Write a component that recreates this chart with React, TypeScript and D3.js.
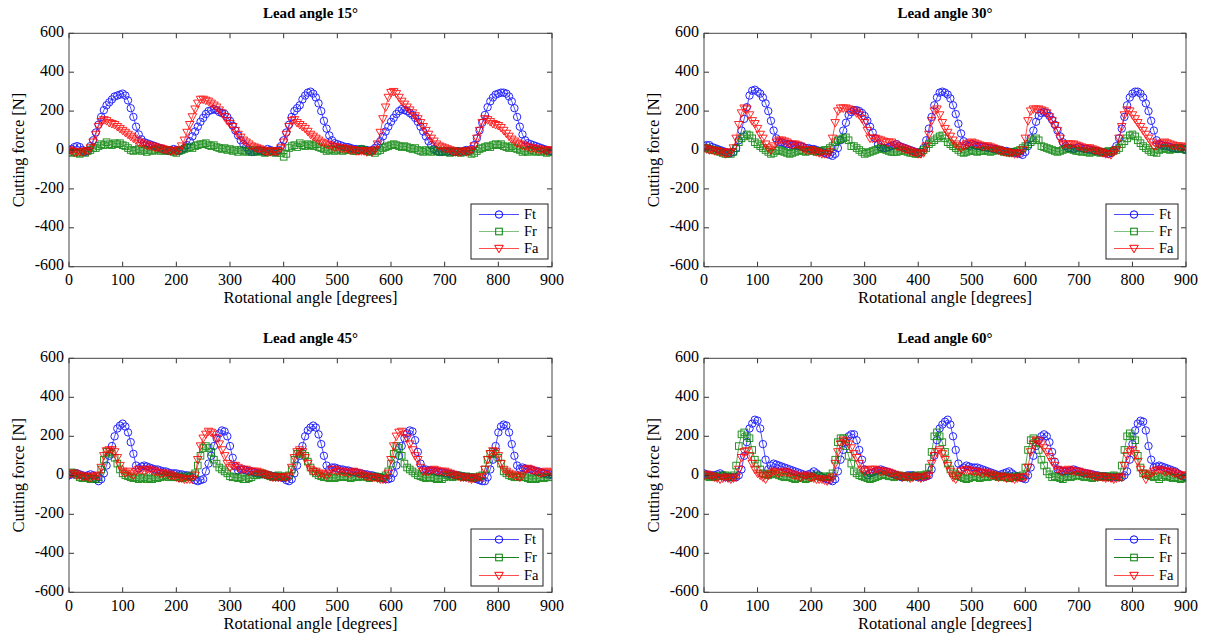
import React from "react";
import * as d3 from "d3";

const angles = d3.range(0, 905, 5);
const xTicks = [0, 100, 200, 300, 400, 500, 600, 700, 800, 900];
const yTicks = [-600, -400, -200, 0, 200, 400, 600];
const titles = ["Lead angle 15°", "Lead angle 30°", "Lead angle 45°", "Lead angle 60°"];
const seriesNames = ["Ft", "Fr", "Fa"];

const ft15 = [
  0, 5, 15, 20, 15, 0, -10, -5, 20, 50,
  90, 130, 170, 205, 230, 245, 260, 275, 280, 285,
  290, 280, 255, 215, 170, 120, 80, 55, 40, 35,
  30, 25, 20, 15, 10, 5, 0, -5, 0, 5,
  0, -5, 0, 10, 25, 45, 70, 95, 120, 145,
  165, 185, 200, 205, 210, 205, 195, 190, 185, 170,
  150, 125, 100, 75, 50, 30, 15, 0, -10, -10,
  -5, 0, -5, -10, 5, 0, -5, -10, 0, 20,
  50, 90, 130, 170, 200, 215, 230, 260, 280, 295,
  300, 290, 270, 240, 200, 150, 110, 75, 50, 35,
  30, 25, 20, 15, 15, 10, 5, 5, 0, 5,
  0, 0, -5, 0, 10, 25, 45, 70, 95, 120,
  145, 165, 185, 200, 210, 205, 200, 190, 180, 165,
  145, 120, 95, 70, 45, 25, 5, -5, -10, -10,
  -5, -10, -5, -10, -10, -5, -10, -5, 0, -5,
  5, 25, 60, 100, 140, 180, 220, 250, 270, 285,
  290, 295, 295, 290, 275, 250, 215, 170, 120, 80,
  50, 35, 30, 25, 20, 15, 10, 5, 0, -5,
  -5,
];
const fr15 = [
  -10, -15, -10, -15, -20, -10, -15, -5, 0, 10,
  10, 20, 30, 25, 40, 30, 25, 35, 30, 35,
  25, 20, 10, 0, -5, 0, 5, -5, 0, -10,
  0, -5, 0, 5, -5, 0, -5, 0, -5, -10,
  -15, -5, 0, 5, 10, 15, 10, 20, 25, 30,
  30, 35, 25, 20, 25, 15, 10, 5, 10, 0,
  5, -5, 0, -10, 0, -5, -10, -5, -10, 0,
  -5, -10, -5, -15, -10, -5, -10, -15, -5, -15,
  -35, -20, 10, 20, 25, 15, 35, 25, 20, 30,
  25, 20, 30, 15, 10, 5, -5, 0, 5, -5,
  0, 5, -5, 0, 5, 0, -5, -5, 0, 5,
  0, -5, -10, -5, -15, -5, 0, 10, 15, 20,
  25, 30, 25, 20, 15, 20, 15, 10, 5, 10,
  0, -5, -10, 0, -5, -10, 0, -5, -10, -5,
  -10, -5, -15, -10, -5, -10, -15, -10, -5, -10,
  -20, -15, -5, 5, 10, 15, 20, 15, 25, 30,
  25, 30, 20, 15, 10, 20, 10, 5, 0, -10,
  -5, -10, 0, -5, -10, -5, -10, -5, -15, -10,
  -10,
];
const fa15 = [
  0, -5, -10, -10, -10, -10, -5, -5, 10, 40,
  80, 120, 145, 155, 150, 140, 135, 130, 120, 110,
  100, 90, 80, 70, 60, 50, 40, 35, 30, 25,
  20, 20, 15, 10, 10, 5, 0, 0, -5, -5,
  -5, 0, 20, 50, 90, 130, 170, 210, 240, 260,
  260, 255, 250, 240, 230, 220, 205, 190, 170, 150,
  135, 120, 100, 80, 65, 50, 40, 30, 20, 15,
  10, 5, 0, -5, -10, -10, -5, -10, -5, 10,
  40, 80, 120, 150, 155, 140, 130, 120, 110, 95,
  80, 70, 60, 50, 40, 35, 30, 25, 20, 15,
  15, 10, 10, 5, 5, 0, 0, -5, -5, -5,
  -5, -10, -5, -10, 0, 30, 90, 160, 220, 270,
  295, 300, 290, 270, 250, 235, 220, 205, 190, 175,
  160, 140, 120, 100, 80, 60, 45, 30, 20, 15,
  10, 5, 0, -5, -10, -10, -10, -5, -10, -5,
  0, 20, 60, 100, 140, 160, 155, 145, 135, 130,
  125, 115, 100, 85, 70, 55, 45, 35, 30, 25,
  20, 15, 10, 10, 5, 5, 0, 0, -5, 0,
  0,
];

const ft30 = [
  20, 25, 25, 15, 10, 5, 0, -5, -10, -15,
  -15, -10, 10, 50, 100, 160, 220, 280, 305, 310,
  300, 290, 270, 240, 200, 150, 100, 60, 40, 40,
  35, 30, 30, 25, 25, 20, 20, 15, 10, 10,
  5, 5, 0, -5, -10, -15, -20, -25, -30, -20,
  10, 50, 100, 140, 180, 195, 205, 205, 200, 190,
  175, 150, 120, 90, 60, 30, 15, 10, 10, 15,
  20, 25, 30, 20, 15, 10, 5, 0, -5, -10,
  -15, -10, 10, 50, 110, 170, 230, 270, 295, 300,
  295, 285, 265, 230, 185, 135, 85, 45, 25, 20,
  30, 25, 20, 20, 15, 15, 10, 10, 5, 5,
  0, 0, -5, -5, -10, -10, -15, -15, -20, -25,
  -10, 20, 60, 100, 145, 175, 190, 195, 190, 175,
  155, 130, 100, 70, 40, 20, 10, 10, 5, 10,
  15, 10, 5, 5, 0, 0, -5, -5, -10, -10,
  -15, -20, -15, 0, 20, 60, 110, 170, 230, 270,
  290, 300, 300, 290, 270, 240, 200, 150, 100, 50,
  30, 25, 20, 20, 15, 10, 10, 5, 10, 5,
  0,
];
const fr30 = [
  10, 10, 5, 0, 0, -5, -10, -15, -20, -20,
  -20, -10, 10, 40, 60, 70, 80, 75, 60, 40,
  30, 20, 10, 0, -10, -20, -15, -5, 0, -5,
  -10, -15, -20, -15, -10, -5, 0, -5, -10, -5,
  0, -5, -10, -5, -5, 0, 0, 10, 20, 40,
  50, 55, 60, 65, 50, 20, 20, 10, 0, -10,
  -20, -15, -10, -5, 0, 5, 10, 5, 0, -5,
  -10, -10, -10, -5, 0, -5, -10, -15, -15, -20,
  -20, -10, 0, 10, 30, 40, 50, 60, 70, 75,
  60, 40, 30, 20, 10, 0, -10, -15, -10, -5,
  0, -5, -10, -5, -5, 0, -5, -10, -5, 0,
  0, -5, -10, -10, -15, -10, -10, -5, 0, 10,
  20, 30, 40, 50, 60, 50, 20, 15, 10, 5,
  0, -5, -10, -5, 0, 5, 10, 5, 0, -5,
  -5, -10, -5, -10, -15, -10, -5, -10, -15, -10,
  -10, -5, -10, -5, 0, 10, 30, 45, 60, 75,
  80, 70, 50, 35, 20, 10, 0, -10, -10, -15,
  0, 5, 10, 5, 0, 5, 5, 10, 10, 5,
  0,
];
const fa30 = [
  10, 5, 0, 0, -5, -5, -10, -10, -20, -15,
  -10, 10, 60, 130, 190, 215, 210, 180, 150, 135,
  110, 80, 60, 30, 10, 0, 20, 40, 50, 50,
  45, 40, 30, 30, 30, 25, 20, 10, 0, 0,
  0, -5, -10, -15, -20, -20, -20, -10, 60, 140,
  200, 215, 215, 215, 210, 205, 200, 190, 180, 160,
  140, 100, 60, 60, 60, 55, 50, 45, 40, 40,
  40, 30, 20, 15, 10, 5, 0, -5, -10, -15,
  -20, -20, -15, 20, 80, 150, 200, 210, 180, 140,
  110, 90, 70, 50, 30, 20, 10, 20, 30, 35,
  40, 35, 30, 25, 20, 20, 20, 15, 10, 5,
  0, -5, -10, -10, -15, -15, -20, -20, -15, 0,
  60, 150, 200, 210, 210, 210, 205, 200, 190, 170,
  150, 125, 100, 60, 30, 30, 30, 30, 30, 25,
  20, 15, 10, 10, 10, 5, 0, -5, -10, -15,
  -20, -20, -25, -10, 0, 60, 120, 180, 205, 200,
  180, 160, 140, 120, 100, 80, 60, 40, 20, 25,
  30, 35, 40, 35, 30, 25, 20, 20, 20, 15,
  10,
];

const ft45 = [
  0, 5, 10, 10, 5, 0, -5, 0, 5, 0,
  -20, -30, -20, 10, 50, 100, 150, 200, 240, 255,
  265, 250, 220, 170, 110, 50, 35, 45, 50, 45,
  40, 35, 30, 30, 25, 20, 20, 15, 10, 10,
  10, 5, 5, 0, 0, -5, -10, -25, -30, -25,
  -20, 20, 60, 100, 150, 190, 215, 230, 225, 200,
  150, 90, 45, 25, 30, 30, 25, 20, 20, 15,
  10, 10, 5, 5, 0, 0, -5, -5, -10, -10,
  -15, -25, -30, -20, 10, 50, 100, 150, 200, 230,
  245, 255, 245, 210, 160, 100, 50, 30, 40, 40,
  35, 30, 30, 25, 25, 20, 15, 15, 10, 10,
  5, 5, 0, 0, -5, -10, -10, -15, -20, -20,
  -15, 10, 50, 100, 150, 190, 215, 230, 225, 180,
  120, 60, 30, 30, 25, 25, 20, 20, 15, 15,
  10, 10, 5, 5, 0, 0, -5, -5, -10, -10,
  -10, -15, -20, -25, -30, -30, -10, 30, 80, 150,
  220, 250, 260, 255, 220, 160, 100, 50, 35, 40,
  35, 30, 30, 25, 20, 20, 15, 10, 5, 5,
  0,
];
const fr45 = [
  10, 15, 10, 0, -10, -15, -10, -15, -20, -15,
  -20, -10, 30, 80, 120, 120, 110, 90, 60, 30,
  10, 0, -5, -10, -15, -10, -20, -15, -10, -20,
  -15, -20, -10, -15, -10, -5, 0, -10, -5, -10,
  -10, -5, -15, -10, -5, -10, 0, 10, 50, 100,
  140, 150, 140, 120, 80, 60, 40, 30, 20, 10,
  -5, -10, -10, -15, -10, -20, -20, -15, -10, 0,
  0, 5, 10, 5, 0, -5, -10, -5, 0, -5,
  -10, -5, 0, 30, 80, 110, 120, 110, 100, 70,
  40, 20, 10, 0, -5, -10, -10, -15, -10, -15,
  -10, -5, -10, -5, -10, -15, -10, -5, -10, -5,
  -5, -10, -15, -10, -5, -10, -15, -10, 0, 20,
  60, 110, 150, 140, 100, 60, 40, 30, 20, 10,
  0, -5, -10, -15, -10, -10, -15, -20, -15, -20,
  -10, 0, -5, -10, -5, 0, -5, -10, -5, -10,
  -10, -15, -10, -5, 0, 30, 80, 110, 120, 110,
  90, 60, 20, 10, 0, -5, -10, -10, -5, -10,
  -10, -15, -20, -15, -20, -15, -10, -15, -10, -10,
  -10,
];
const fa45 = [
  0, 10, 10, 0, 0, -5, -5, -10, -10, -5,
  -5, 0, 40, 100, 125, 130, 130, 120, 90, 50,
  20, 10, 20, 10, 0, 20, 30, 25, 20, 30,
  30, 25, 20, 15, 10, 10, 10, 5, 0, -5,
  -10, -15, -15, -20, -20, -20, -20, 0, 80, 150,
  190, 210, 225, 220, 210, 190, 160, 130, 100, 60,
  40, 50, 50, 40, 30, 30, 30, 20, 20, 20,
  20, 15, 10, 5, 0, -5, -10, -10, -10, -10,
  -10, -10, -5, 40, 90, 120, 130, 120, 90, 60,
  30, 20, 20, 10, 10, 5, 0, 10, 30, 30,
  20, 20, 20, 15, 10, 15, 20, 15, 10, 5,
  0, -5, -10, -10, -10, -15, -20, -20, -20, 10,
  80, 150, 200, 220, 225, 210, 190, 160, 130, 100,
  80, 40, 20, 20, 20, 25, 30, 25, 20, 20,
  20, 15, 10, 5, 0, -5, -10, -10, -10, -15,
  -20, -15, -10, -10, -10, 30, 80, 110, 125, 120,
  100, 60, 30, 20, 10, 5, 0, -5, -10, 0,
  30, 35, 30, 25, 20, 15, 10, 15, 20, 15,
  10,
];

const ft60 = [
  10, 5, 0, 0, 0, 5, 10, 0, -10, -10,
  -10, -10, -10, 0, 30, 100, 170, 240, 265, 285,
  280, 240, 160, 80, 30, 50, 60, 55, 50, 45,
  40, 35, 30, 25, 20, 15, 10, 5, 0, 5,
  10, 20, 10, 0, -10, -15, -20, -25, -30, -20,
  20, 80, 130, 170, 200, 210, 210, 180, 130, 80,
  30, 0, 10, 15, 20, 25, 30, 25, 20, 15,
  10, 5, 0, -5, -10, -5, 0, 0, 0, -5,
  -10, -10, -10, -5, 0, 30, 100, 180, 240, 260,
  275, 285, 260, 200, 130, 60, 30, 40, 50, 45,
  40, 40, 40, 35, 30, 25, 20, 15, 10, 5,
  0, 5, 10, 15, 20, 10, 0, -5, -10, -15,
  -20, 0, 40, 100, 150, 180, 200, 210, 200, 170,
  120, 70, 30, 25, 20, 20, 20, 25, 30, 25,
  20, 15, 10, 10, 5, 5, 0, 0, -5, -5,
  -5, -10, -10, -10, -10, -10, -10, 0, 20, 80,
  160, 230, 265, 280, 275, 230, 150, 80, 40, 45,
  50, 45, 40, 35, 30, 25, 20, 10, 0, -5,
  -10,
];
const fr60 = [
  0, -5, -10, -5, -10, -5, -5, 0, 0, -5,
  -10, 0, 50, 150, 210, 220, 200, 190, 130, 80,
  60, 30, 10, 5, 0, 5, 10, 5, 0, -5,
  -10, -5, -10, -15, -20, -15, -10, -15, -20, -15,
  -10, -5, 0, -5, -10, -5, -10, -5, 10, 80,
  170, 190, 190, 150, 100, 60, 20, 10, 0, -5,
  -10, -15, -20, -15, -10, -5, 0, 5, 0, -5,
  -5, -10, -5, 0, -5, -10, -5, -10, -5, 0,
  -5, 0, 0, 5, 40, 120, 200, 220, 200, 170,
  120, 60, 30, 10, 0, -5, -10, -15, -20, -15,
  -10, -5, -10, -15, -10, -5, -10, -5, 0, -5,
  -10, -5, -10, -5, -15, -10, -5, -10, -5, 0,
  40, 130, 180, 190, 170, 130, 80, 50, 20, 5,
  -10, -5, -10, -15, -20, -10, -5, -10, -5, 0,
  0, -5, -10, -5, -10, -15, -10, -5, -10, -5,
  -5, -10, -5, 0, -5, -10, 50, 130, 200, 215,
  200, 180, 100, 40, 10, 5, 0, -5, -10, -5,
  -20, -10, 0, -5, -10, -15, -10, -15, -20, -15,
  -10,
];
const fa60 = [
  0, 5, 0, -5, -10, -15, -20, -15, -10, -15,
  -20, -15, -10, 30, 90, 120, 125, 100, 60, 30,
  10, 0, -10, -20, 0, 10, 20, 15, 10, 15,
  20, 15, 10, 5, 0, -5, -10, -5, 0, -5,
  -10, -15, -20, -20, -20, -25, -30, -20, -10, 60,
  120, 160, 180, 175, 160, 140, 110, 90, 60, 30,
  20, 25, 30, 30, 30, 25, 20, 20, 20, 15,
  10, 5, 0, -5, -10, -5, -10, -15, -10, -5,
  -10, -15, -10, -5, 0, 60, 100, 120, 130, 110,
  80, 50, 20, -10, -20, 0, 20, 25, 30, 25,
  20, 20, 20, 15, 10, 15, 10, 5, 0, -5,
  -10, -5, -10, -15, -10, -15, -20, -15, -10, -10,
  -10, 40, 120, 160, 180, 175, 160, 140, 120, 95,
  70, 50, 30, 25, 20, 25, 30, 25, 20, 20,
  20, 15, 10, 10, 5, 0, -5, -10, -5, -10,
  -15, -10, -15, -20, -15, -10, -10, 50, 100, 120,
  130, 110, 70, 30, 10, -20, 0, 10, 20, 25,
  30, 25, 20, 20, 20, 15, 10, 5, 0, 0,
  0,
];

const panelData = [
  [ft15, fr15, fa15],
  [ft30, fr30, fa30],
  [ft45, fr45, fa45],
  [ft60, fr60, fa60],
];

const W = 1209;
const H = 641;
const FONT = "'Liberation Serif', 'Times New Roman', serif";
const COLORS = ["#0000ff", "#008000", "#ff0000"];
const LEGEND_LINE = [
  ["#4d4dff", "#80c080", "#ff4d4d"],
  ["#4d4dff", "#80c080", "#ff4d4d"],
  ["#4d4dff", "#1a801a", "#ff4d4d"],
  ["#4d4dff", "#1a801a", "#ff4d4d"],
];

const panels = [
  { x0: 69, x1: 552, y0: 33.3, y1: 266.7, legendX: 471, legendY: 204, legendW: 77, legendH: 55 },
  { x0: 704, x1: 1186, y0: 33.3, y1: 266.7, legendX: 1106, legendY: 204, legendW: 72, legendH: 55 },
  { x0: 69, x1: 552, y0: 358.3, y1: 592.3, legendX: 471, legendY: 529, legendW: 72, legendH: 57 },
  { x0: 704, x1: 1186, y0: 358.3, y1: 592.3, legendX: 1106, legendY: 529, legendW: 72, legendH: 57 },
];

function Marker({ kind, x, y, color }: { kind: number; x: number; y: number; color: string }) {
  if (kind === 0) {
    return <circle cx={x} cy={y} r={3.7} fill="none" stroke={color} strokeWidth={1} />;
  }
  if (kind === 1) {
    return <rect x={x - 3.3} y={y - 3.3} width={6.6} height={6.6} fill="none" stroke={color} strokeWidth={1} />;
  }
  return (
    <path
      d={`M${x - 4.3},${y - 3.2}L${x + 4.3},${y - 3.2}L${x},${y + 4.3}Z`}
      fill="none"
      stroke={color}
      strokeWidth={1}
    />
  );
}

function Panel({ idx }: { idx: number }) {
  const p = panels[idx];
  const xs = d3.scaleLinear().domain([0, 900]).range([p.x0, p.x1]);
  const ys = d3.scaleLinear().domain([-600, 600]).range([p.y1, p.y0]);
  const line = d3
    .line<number>()
    .x((_, i) => xs(angles[i]))
    .y((d) => ys(d));
  const series = panelData[idx];
  const tick = 5;
  const cx = (p.x0 + p.x1) / 2;
  const cy = (p.y0 + p.y1) / 2;
  return (
    <g>
      <rect x={p.x0} y={p.y0} width={p.x1 - p.x0} height={p.y1 - p.y0} fill="#fff" />
      <g clipPath={`url(#clip${idx})`}>
        {series.map((vals, s) => (
          <g key={s} opacity={0.85}>
            <path d={line(vals) || ""} fill="none" stroke={COLORS[s]} strokeWidth={0.8} />
            {vals.map((v, i) => (
              <Marker key={i} kind={s} x={xs(angles[i])} y={ys(v)} color={COLORS[s]} />
            ))}
          </g>
        ))}
      </g>
      {xTicks.map((t) => (
        <g key={"xt" + t}>
          <line x1={xs(t)} x2={xs(t)} y1={p.y1} y2={p.y1 - tick} stroke="#333" strokeWidth={1} />
          <line x1={xs(t)} x2={xs(t)} y1={p.y0} y2={p.y0 + tick} stroke="#333" strokeWidth={1} />
          <text
            x={xs(t)}
            y={p.y1 + 15}
            textAnchor="middle"
            dominantBaseline="middle"
            fontFamily={FONT}
            fontSize={16}
            fill="#000"
          >
            {t}
          </text>
        </g>
      ))}
      {yTicks.map((t) => (
        <g key={"yt" + t}>
          <line x1={p.x0} x2={p.x0 + tick} y1={ys(t)} y2={ys(t)} stroke="#333" strokeWidth={1} />
          <line x1={p.x1} x2={p.x1 - tick} y1={ys(t)} y2={ys(t)} stroke="#333" strokeWidth={1} />
          <text
            x={p.x0 - 5}
            y={ys(t)}
            textAnchor="end"
            dominantBaseline="middle"
            fontFamily={FONT}
            fontSize={16}
            fill="#000"
          >
            {t}
          </text>
        </g>
      ))}
      <rect
        x={p.x0}
        y={p.y0}
        width={p.x1 - p.x0}
        height={p.y1 - p.y0}
        fill="none"
        stroke="#444"
        strokeWidth={1}
      />
      <text
        x={cx}
        y={p.y0 - 19}
        textAnchor="middle"
        dominantBaseline="middle"
        fontFamily={FONT}
        fontWeight="bold"
        fontSize={15}
        fill="#000"
      >
        {titles[idx]}
      </text>
      <text
        x={cx}
        y={p.y1 + 33}
        textAnchor="middle"
        dominantBaseline="middle"
        fontFamily={FONT}
        fontSize={16.5}
        fill="#000"
      >
        Rotational angle [degrees]
      </text>
      <text
        transform={`translate(${p.x0 - 49},${cy}) rotate(-90)`}
        textAnchor="middle"
        dominantBaseline="middle"
        fontFamily={FONT}
        fontSize={16.5}
        fill="#000"
      >
        Cutting force [N]
      </text>
      <g>
        <rect
          x={p.legendX}
          y={p.legendY}
          width={p.legendW}
          height={p.legendH}
          fill="#fff"
          stroke="#222"
          strokeWidth={1}
        />
        {seriesNames.map((n, s) => {
          const ly = p.legendY + 10.5 + (s * (p.legendH - 21)) / 2;
          const lx0 = p.legendX + 8;
          const lx1 = p.legendX + 48;
          return (
            <g key={n}>
              <line x1={lx0} x2={lx1} y1={ly} y2={ly} stroke={LEGEND_LINE[idx][s]} strokeWidth={1} />
              <Marker kind={s} x={(lx0 + lx1) / 2} y={ly} color={COLORS[s]} />
              <text
                x={lx1 + 5}
                y={ly + 1}
                dominantBaseline="middle"
                fontFamily={FONT}
                fontSize={14.5}
                fill="#000"
              >
                {n}
              </text>
            </g>
          );
        })}
      </g>
    </g>
  );
}

export default function App() {
  return (
    <svg
      width={W}
      height={H}
      viewBox={`0 0 ${W} ${H}`}
      style={{ position: "absolute", left: 0, top: 0, background: "#fff" }}
    >
      <defs>
        {panels.map((p, i) => (
          <clipPath id={`clip${i}`} key={i}>
            <rect x={p.x0} y={p.y0} width={p.x1 - p.x0} height={p.y1 - p.y0} />
          </clipPath>
        ))}
      </defs>
      <rect x={0} y={0} width={W} height={H} fill="#fff" />
      {[0, 1, 2, 3].map((i) => (
        <Panel key={i} idx={i} />
      ))}
    </svg>
  );
}
